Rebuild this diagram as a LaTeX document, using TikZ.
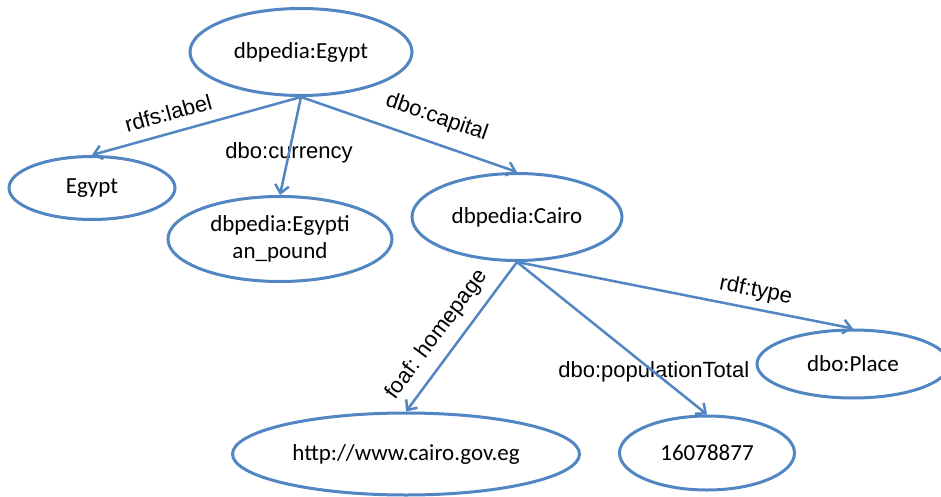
\documentclass[tikz,border=0pt]{standalone}
\usepackage{fontspec}
\setmainfont{Carlito}
\newfontfamily\propfont{Liberation Sans}
\usetikzlibrary{shapes.geometric,arrows.meta}
\definecolor{rdfblue}{RGB}{82,134,194}
\begin{document}
\begin{tikzpicture}[x=1pt,y=-1pt,
  res/.style={ellipse, draw=rdfblue, line width=3pt, inner sep=0pt, align=center,
    font=\fontsize{23}{27}\selectfont},
  link/.style={draw=rdfblue, line width=2.5pt, -{Straight Barb[length=8pt,width=14pt]}},
  prop/.style={font=\propfont\fontsize{22}{26}\selectfont, inner sep=0pt, text=black},
]
\useasboundingbox (0,0) rectangle (941,497);
\clip (0,0) rectangle (941,497);

% resources and literals
\node[res, minimum width=222pt, minimum height=87pt] (egypt)  at (301,52)  {dbpedia:Egypt};
\node[res, minimum width=166pt, minimum height=63pt] (label)  at (92,188)  {Egypt};
\node[res, minimum width=224pt, minimum height=85pt] (pound)  at (280,239) {dbpedia:Egypti\\an\_pound};
\node[res, minimum width=210pt, minimum height=87pt] (cairo)  at (517,217) {dbpedia:Cairo};
\node[res, minimum width=347pt, minimum height=82pt] (home)   at (406,454) {http://www.cairo.gov.eg};
\node[res, minimum width=175pt, minimum height=74pt] (pop)    at (707,453) {16078877};
\node[res, minimum width=192pt, minimum height=68pt] (place)  at (853,364) {dbo:Place};

% properties
\draw[link] (egypt.south) -- (label.north)
  node[prop, pos=0.61, sloped, yshift=20pt] {rdfs:label};
\draw[link] (egypt.south) -- (pound.north)
  node[prop, pos=0.57, behind path] {dbo:currency};
\draw[link] (egypt.south) -- (cairo.north)
  node[prop, pos=0.59, sloped, yshift=25pt] {dbo:capital};
\draw[link] (cairo.south) -- (home.north)
  node[prop, pos=0.57, sloped, yshift=21pt] {foaf: homepage};
\draw[link] (cairo.south) -- (pop.north)
  node[prop, pos=0.72, behind path] {dbo:populationTotal};
\draw[link] (cairo.south) -- (place.north)
  node[prop, pos=0.70, sloped, yshift=18pt] {rdf:type};
\end{tikzpicture}
\end{document}
